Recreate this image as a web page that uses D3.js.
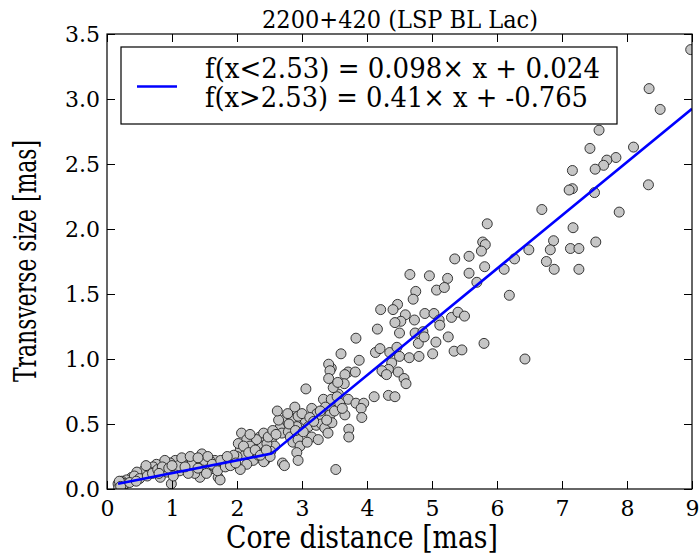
<!DOCTYPE html>
<html>
<head>
<meta charset="utf-8">
<script src="https://cdn.jsdelivr.net/npm/d3@7"></script>
<style>
  body { margin: 0; background: #fff; }
  svg text { font-family: "DejaVu Serif", serif; fill: #000; }
</style>
</head>
<body>
<svg id="chart" width="699" height="560"></svg>
<script>
// scatter data: core distance [mas], transverse size [mas]
const coreDist = [
  8.98,8.34,8.51,7.57,7.43,8.10,7.83,7.69,7.64,7.51,7.16,7.16,7.11,7.50,8.33,6.69,7.88,5.85,7.17,5.78,5.82,5.76,6.87,6.82,7.52,7.13,7.26,6.49,6.27,6.76,6.88,7.26,5.81,6.11,6.19,
  5.35,5.57,4.66,4.96,5.24,5.57,5.69,4.75,4.71,5.07,5.19,4.47,4.40,4.21,4.59,4.52,4.43,4.16,4.73,4.89,5.03,5.11,5.12,5.30,5.40,5.50,3.83,4.13,4.20,4.50,4.74,4.86,4.79,4.88,5.06,5.25,5.80,6.43,5.34,5.46,3.60,3.88,4.35,4.46,4.50,4.65,4.80,5.01,4.38,4.25,4.33,3.71,3.82,3.66,3.65,4.48,4.57,4.60,4.11,4.33,4.43,3.45,3.56,
  3.41,3.43,3.41,4.23,4.30,3.06,3.33,3.45,3.36,3.46,3.54,3.71,3.83,3.95,3.91,3.92,2.89,3.15,3.23,3.31,3.43,2.75,2.87,2.97,3.05,3.10,3.22,3.30,3.35,3.46,3.40,3.66,3.72,3.72,3.15,3.25,2.66,2.69,2.79,2.82,2.86,2.94,2.97,2.92,2.94,3.52,2.70,2.73,2.53,2.58,2.52,2.23,2.30,2.25,2.38,2.41,2.43,2.30,2.23,2.46,2.35,2.64,
  2.85,2.94,2.92,2.07,2.15,2.30,2.41,2.48,2.20,2.05,2.12,2.00,2.25,2.33,2.41,2.15,2.05,2.51,
  1.46,1.25,1.12,1.05,0.97,0.87,0.76,0.71,0.53,0.38,0.30,0.23,0.20,0.25,0.99,0.82,0.92,1.05,1.12,1.23,1.33,1.43,1.53,1.58,1.66,1.71,1.74,1.79,1.87,1.92,1.66,1.58,1.38,1.30,1.46,1.17,1.10,1.43,1.35,1.25,1.53,0.66,0.58,0.46,0.89,
  0.17,0.18,0.22,0.27,0.19,0.21,
  0.42,0.50,0.62,0.70,0.78,0.85,0.95,0.60,0.80,1.00,1.02,0.35,0.45,
  1.15,1.20,1.28,1.40,1.50,1.55,1.62,1.70,1.75,1.82,1.90,1.95,1.98,1.85,1.40,
  2.02,2.10,2.18,2.28,2.36,2.45,2.55,2.60,2.20,2.62,
  2.78,2.80,2.90,3.00,3.02,3.08,3.12,3.18,3.28,3.38,3.50,3.58,3.62,3.48,3.55
];
const transSize = [
  3.38,3.08,2.92,2.76,2.62,2.63,2.55,2.53,2.49,2.46,2.45,2.31,2.30,2.28,2.34,2.15,2.13,2.04,2.01,1.90,1.88,1.83,1.91,1.84,1.90,1.85,1.85,1.84,1.77,1.75,1.69,1.69,1.71,1.69,1.49,
  1.77,1.79,1.65,1.64,1.62,1.66,1.59,1.52,1.46,1.53,1.55,1.42,1.38,1.38,1.34,1.29,1.28,1.23,1.30,1.35,1.35,1.30,1.26,1.32,1.36,1.33,1.16,1.05,1.08,1.20,1.20,1.21,1.12,1.17,1.13,1.17,1.12,1.00,1.06,1.07,1.04,0.99,1.05,1.09,1.02,1.01,1.02,1.04,0.97,0.90,0.92,0.90,0.90,0.88,0.81,0.90,0.85,0.81,0.71,0.72,0.71,0.93,0.73,
  0.96,0.91,0.85,0.91,0.88,0.77,0.69,0.69,0.63,0.61,0.71,0.69,0.66,0.66,0.62,0.55,0.63,0.62,0.58,0.56,0.57,0.54,0.54,0.51,0.53,0.48,0.49,0.50,0.47,0.51,0.43,0.57,0.46,0.40,0.40,0.38,0.47,0.43,0.44,0.40,0.36,0.38,0.33,0.28,0.22,0.15,0.20,0.18,0.38,0.33,0.29,0.39,0.36,0.33,0.33,0.28,0.22,0.24,0.25,0.35,0.40,0.53,
  0.54,0.56,0.48,0.43,0.38,0.38,0.43,0.40,0.33,0.30,0.26,0.25,0.22,0.26,0.21,0.19,0.15,0.25,
  0.27,0.22,0.21,0.22,0.20,0.20,0.19,0.17,0.12,0.09,0.07,0.06,0.03,0.02,0.04,0.09,0.13,0.13,0.14,0.15,0.16,0.13,0.18,0.15,0.17,0.09,0.07,0.20,0.21,0.22,0.22,0.22,0.20,0.19,0.18,0.19,0.18,0.09,0.12,0.12,0.12,0.13,0.15,0.13,0.22,
  0.04,0.01,0.05,0.04,0.06,0.02,
  0.10,0.08,0.10,0.12,0.15,0.17,0.16,0.18,0.12,0.18,0.10,0.05,0.06,
  0.24,0.17,0.25,0.16,0.22,0.25,0.19,0.14,0.22,0.17,0.18,0.26,0.20,0.25,0.24,
  0.35,0.33,0.28,0.30,0.26,0.30,0.45,0.42,0.42,0.60,
  0.58,0.50,0.45,0.58,0.44,0.36,0.55,0.52,0.60,0.53,0.60,0.66,0.62,0.78,0.82
];

// broken-line fit, breakpoints as drawn
const fitX = [0.17, 2.53, 9.0];
const fitY = [0.041, 0.272, 2.925];

const legendLines = ["f(x<2.53) = 0.098\u00d7 x + 0.024", "f(x>2.53) = 0.41\u00d7 x + -0.765"];
const xTicks = [0,1,2,3,4,5,6,7,8,9];
const yTicks = [0,0.5,1,1.5,2,2.5,3,3.5];

const width = 699, height = 560;
const margin = {top: 34, right: 7, bottom: 71, left: 107};

const svg = d3.select('#chart');

const x = d3.scaleLinear().domain([0, 9]).range([margin.left, width - margin.right]);
const y = d3.scaleLinear().domain([0, 3.5]).range([height - margin.bottom, margin.top]);

// clip so points on the right edge get cut like the original
svg.append('clipPath').attr('id', 'plotclip')
  .append('rect')
  .attr('x', margin.left).attr('y', margin.top)
  .attr('width', x(9) - x(0)).attr('height', y(0) - y(3.5));

const pts = coreDist.map((d, i) => ({x: d, y: transSize[i]}));

svg.append('g').attr('clip-path', 'url(#plotclip)')
  .selectAll('circle')
  .data(pts)
  .enter()
  .append('circle')
  .attr('cx', d => x(d.x))
  .attr('cy', d => y(d.y))
  .attr('r', 5)
  .style('fill', '#c6c6c6')
  .style('stroke', '#222')
  .style('stroke-width', 0.9);

// fit line
const line = d3.line().x(d => x(d[0])).y(d => y(d[1]));
svg.append('path')
  .datum(fitX.map((d, i) => [d, fitY[i]]))
  .attr('d', line)
  .attr('clip-path', 'url(#plotclip)')
  .style('fill', 'none')
  .style('stroke', '#0000ff')
  .style('stroke-width', 2.6);

// axes, ticks pointing inward on all four sides
const tickLen = 8;
const xAxis = svg.append('g')
  .attr('transform', `translate(0,${y(0)})`)
  .call(d3.axisBottom(x).tickValues(xTicks).tickFormat(d3.format('d'))
        .tickSizeInner(-tickLen).tickSizeOuter(0).tickPadding(11));
const yAxis = svg.append('g')
  .attr('transform', `translate(${x(0)},0)`)
  .call(d3.axisLeft(y).tickValues(yTicks).tickFormat(d3.format('.1f'))
        .tickSizeInner(-tickLen).tickSizeOuter(0).tickPadding(7));
const topAxis = svg.append('g')
  .attr('transform', `translate(0,${y(3.5)})`)
  .call(d3.axisTop(x).tickValues(xTicks).tickFormat('').tickSizeInner(-tickLen).tickSizeOuter(0));
const rightAxis = svg.append('g')
  .attr('transform', `translate(${x(9)},0)`)
  .call(d3.axisRight(y).tickValues(yTicks).tickFormat('').tickSizeInner(-tickLen).tickSizeOuter(0));

[xAxis, yAxis, topAxis, rightAxis].forEach(g => {
  g.select('.domain').remove();
  g.selectAll('line').style('stroke', '#000').style('stroke-width', 1);
  g.selectAll('text').style('font-family', '"DejaVu Serif", serif').style('font-size', '22px');
});

// frame
svg.append('rect')
  .attr('x', x(0)).attr('y', y(3.5))
  .attr('width', x(9) - x(0)).attr('height', y(0) - y(3.5))
  .style('fill', 'none').style('stroke', '#000').style('stroke-width', 1.2);

// legend
const leg = svg.append('g');
leg.append('rect')
  .attr('x', 121).attr('y', 47).attr('width', 496).attr('height', 77)
  .style('fill', '#fff').style('stroke', '#000').style('stroke-width', 1.2);
leg.append('line')
  .attr('x1', 137).attr('x2', 177).attr('y1', 86.5).attr('y2', 86.5)
  .style('stroke', '#0000ff').style('stroke-width', 2.6);
leg.selectAll('text.lg')
  .data(legendLines)
  .enter()
  .append('text')
  .attr('class', 'lg')
  .attr('x', 205)
  .attr('y', (d, i) => 78 + i * 29)
  .attr('textLength', (d, i) => i === 0 ? 395 : 383)
  .attr('lengthAdjust', 'spacingAndGlyphs')
  .style('font-size', '27px')
  .text(d => d);

// title and axis labels
svg.append('text')
  .attr('x', 400).attr('y', 28)
  .attr('text-anchor', 'middle')
  .style('font-family', '"DejaVu Serif Condensed", "DejaVu Serif", serif')
  .style('font-size', '25px')
  .text('2200+420 (LSP BL Lac)');

svg.append('text')
  .attr('x', 362).attr('y', 548)
  .attr('text-anchor', 'middle')
  .attr('textLength', 272).attr('lengthAdjust', 'spacingAndGlyphs')
  .style('font-size', '31px')
  .text('Core distance [mas]');

svg.append('text')
  .attr('transform', 'translate(36,261) rotate(-90)')
  .attr('text-anchor', 'middle')
  .attr('textLength', 242).attr('lengthAdjust', 'spacingAndGlyphs')
  .style('font-size', '31px')
  .text('Transverse size [mas]');
</script>
</body>
</html>
